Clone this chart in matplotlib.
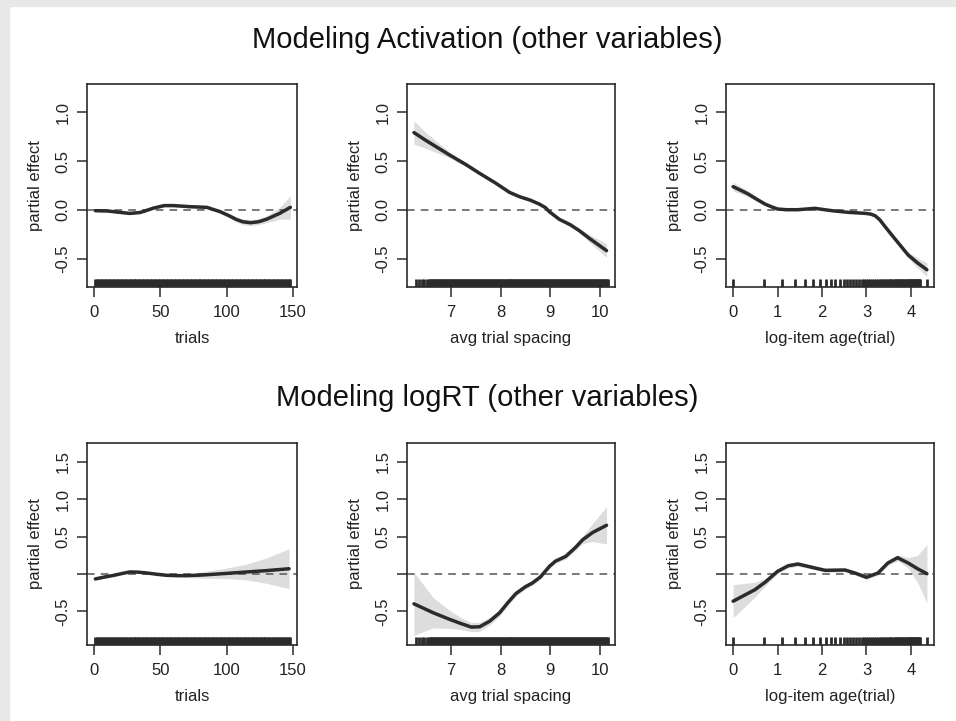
import matplotlib
matplotlib.use('Agg')
import matplotlib.pyplot as plt
import numpy as np
from matplotlib.patches import Rectangle

plt.rcParams['font.family'] = ['Liberation Sans', 'DejaVu Sans']

# ---- data ----
# rug positions (observed predictor values)
trials_rug = list(range(1, 149))
spacing_rug_sparse = [6.30, 6.36, 6.42, 6.47, 6.52]
spacing_rug_dense = np.arange(6.56, 10.16, 0.02)
item_age_rug = list(range(1, 68)) + [78]

# Activation, trials
act_trials_x = [1, 10, 20, 27, 35, 45, 53, 60, 72, 85, 95, 102, 107, 112, 118, 124, 130, 140, 148]
act_trials_y = [-0.007, -0.01, -0.025, -0.035, -0.025, 0.02, 0.045, 0.045, 0.034, 0.027,
                -0.017, -0.06, -0.095, -0.12, -0.13, -0.12, -0.095, -0.034, 0.027]
act_trials_se = [0.012, 0.01, 0.01, 0.01, 0.01, 0.01, 0.012, 0.012, 0.012, 0.012,
                 0.015, 0.02, 0.025, 0.03, 0.03, 0.03, 0.035, 0.06, 0.12]

# Activation, avg trial spacing
act_spacing_x = [6.26, 6.5, 6.98, 7.3, 7.58, 7.9, 8.18, 8.38, 8.6, 8.78, 8.9, 8.98, 9.18, 9.4, 9.58, 9.8, 10.13]
act_spacing_y = [0.79, 0.71, 0.56, 0.465, 0.374, 0.275, 0.18, 0.136, 0.10, 0.06, 0.025,
                 -0.017, -0.095, -0.15, -0.21, -0.295, -0.415]
act_spacing_se = [0.12, 0.08, 0.03, 0.02, 0.015, 0.012, 0.012, 0.012, 0.012, 0.012, 0.012,
                  0.012, 0.012, 0.015, 0.02, 0.04, 0.07]

# Activation, log item age
act_age_x = [0, 0.2, 0.34, 0.55, 0.72, 0.88, 1.0, 1.2, 1.46, 1.84, 2.22, 2.59, 2.97, 3.1,
             3.2, 3.3, 3.42, 3.57, 3.75, 3.94, 4.15, 4.36]
act_age_y = [0.238, 0.195, 0.163, 0.105, 0.06, 0.03, 0.01, 0.003, 0.003, 0.017, -0.007,
             -0.024, -0.034, -0.042, -0.06, -0.1, -0.17, -0.255, -0.355, -0.46, -0.54, -0.61]
act_age_se = [0.045, 0.035, 0.03, 0.02, 0.015, 0.012, 0.012, 0.01, 0.01, 0.01, 0.01, 0.01,
              0.01, 0.012, 0.012, 0.012, 0.012, 0.015, 0.02, 0.03, 0.05, 0.07]

# logRT, trials
rt_trials_x = [1, 8, 15, 22, 27, 33, 40, 48, 55, 62, 70, 80, 90, 100, 115, 130, 147]
rt_trials_y = [-0.066, -0.04, -0.018, 0.01, 0.027, 0.025, 0.013, -0.005, -0.018, -0.022,
               -0.022, -0.015, -0.004, 0.008, 0.027, 0.045, 0.07]
rt_trials_se = [0.02, 0.015, 0.012, 0.012, 0.012, 0.012, 0.012, 0.012, 0.012, 0.015, 0.025,
                0.04, 0.055, 0.07, 0.105, 0.17, 0.265]

# logRT, avg trial spacing
rt_spacing_x = [6.26, 6.65, 6.98, 7.2, 7.41, 7.58, 7.78, 7.98, 8.15, 8.31, 8.5, 8.64, 8.8,
                8.98, 9.1, 9.31, 9.5, 9.65, 9.85, 10.13]
rt_spacing_y = [-0.398, -0.518, -0.606, -0.66, -0.708, -0.704, -0.63, -0.518, -0.38, -0.26,
                -0.17, -0.12, -0.04, 0.10, 0.17, 0.235, 0.35, 0.456, 0.553, 0.65]
rt_spacing_se = [0.42, 0.2, 0.12, 0.08, 0.06, 0.06, 0.05, 0.045, 0.04, 0.035, 0.03, 0.03,
                 0.03, 0.03, 0.03, 0.035, 0.04, 0.05, 0.12, 0.25]

# logRT, log item age
rt_age_x = [0, 0.49, 0.72, 1.0, 1.24, 1.46, 1.84, 2.07, 2.52, 2.74, 3.0, 3.26, 3.48, 3.70,
            3.94, 4.15, 4.36]
rt_age_y = [-0.363, -0.21, -0.11, 0.035, 0.11, 0.133, 0.08, 0.049, 0.053, 0.013, -0.044,
            0.013, 0.146, 0.217, 0.146, 0.07, 0.004]
rt_age_se = [0.22, 0.1, 0.05, 0.03, 0.03, 0.03, 0.025, 0.025, 0.025, 0.025, 0.03, 0.03,
             0.035, 0.04, 0.07, 0.18, 0.39]

xlabels = ['trials', 'avg trial spacing', 'log-item age(trial)']
titles = ['Modeling Activation (other variables)', 'Modeling logRT (other variables)']

top_yticks = [-0.5, 0.0, 0.5, 1.0]
top_yticklabels = ['-0.5', '0.0', '0.5', '1.0']
bot_yticks = [-0.5, 0.0, 0.5, 1.0, 1.5]
bot_yticklabels = ['-0.5', '', '0.5', '1.0', '1.5']

xticks = [[0, 50, 100, 150], [7, 8, 9, 10], [0, 1, 2, 3, 4]]
xlims = [(-5.3, 153), (6.12, 10.3), (-0.16, 4.52)]

rugs = [trials_rug,
        spacing_rug_sparse + list(spacing_rug_dense),
        list(np.log(item_age_rug))]

rows = [
    [(act_trials_x, act_trials_y, act_trials_se),
     (act_spacing_x, act_spacing_y, act_spacing_se),
     (act_age_x, act_age_y, act_age_se)],
    [(rt_trials_x, rt_trials_y, rt_trials_se),
     (rt_spacing_x, rt_spacing_y, rt_spacing_se),
     (rt_age_x, rt_age_y, rt_age_se)],
]

W, H = 956, 721
fig = plt.figure(figsize=(W / 100, H / 100), dpi=100)
fig.patches.append(Rectangle((0, 0), 9 / W, 1, transform=fig.transFigure, color='#e8e8e8', zorder=-1))
fig.patches.append(Rectangle((0, 1 - 6 / H), 1, 6 / H, transform=fig.transFigure, color='#e8e8e8', zorder=-1))

lefts = [87, 407, 726]
widths = [210, 208, 208]
tops = [84, 443]
bottoms = [287, 645]
ylims = [(-0.786, 1.286), (-0.947, 1.747)]

ink = '#2b2b2b'

for r in range(2):
    for c in range(3):
        ax = fig.add_axes([lefts[c] / W, 1 - bottoms[r] / H, widths[c] / W, (bottoms[r] - tops[r]) / H])
        x, y, se = rows[r][c]
        x = np.array(x); y = np.array(y); se = np.array(se)
        ax.fill_between(x, y - se, y + se, color='#dddddd', lw=0, zorder=1)
        ax.plot(x, y, color=ink, lw=2.5, zorder=3, solid_capstyle='round', solid_joinstyle='round')
        ax.axhline(0, color='#555555', lw=1.1, ls=(0, (5, 4)), zorder=2)
        ax.vlines(rugs[c], 0, 0.04, transform=ax.get_xaxis_transform(), color=ink, lw=2.0, zorder=4)
        ax.set_xlim(xlims[c])
        ax.set_ylim(ylims[r])
        ax.set_xticks(xticks[c])
        if r == 0:
            ax.set_yticks(top_yticks)
            ax.set_yticklabels(top_yticklabels)
        else:
            ax.set_yticks(bot_yticks)
            ax.set_yticklabels(bot_yticklabels)
        for lab in ax.get_yticklabels():
            lab.set_rotation(90)
            lab.set_va('center')
        ax.tick_params(direction='out', length=7, width=1.1, color=ink, labelsize=12,
                       labelcolor='#222222', pad=6)
        ax.tick_params(axis='y', pad=5)
        for s in ax.spines.values():
            s.set_linewidth(1.2)
            s.set_color(ink)
        ax.set_xlabel(xlabels[c], fontsize=12, color='#222222', labelpad=8)
        ax.set_ylabel('partial effect', fontsize=12, color='#222222', labelpad=9)

fig.text(0.51, 1 - 40 / H, titles[0], ha='center', va='center', fontsize=21, color='#111111')
fig.text(0.51, 1 - 398 / H, titles[1], ha='center', va='center', fontsize=21, color='#111111')

fig.savefig('out.png', dpi=100)
